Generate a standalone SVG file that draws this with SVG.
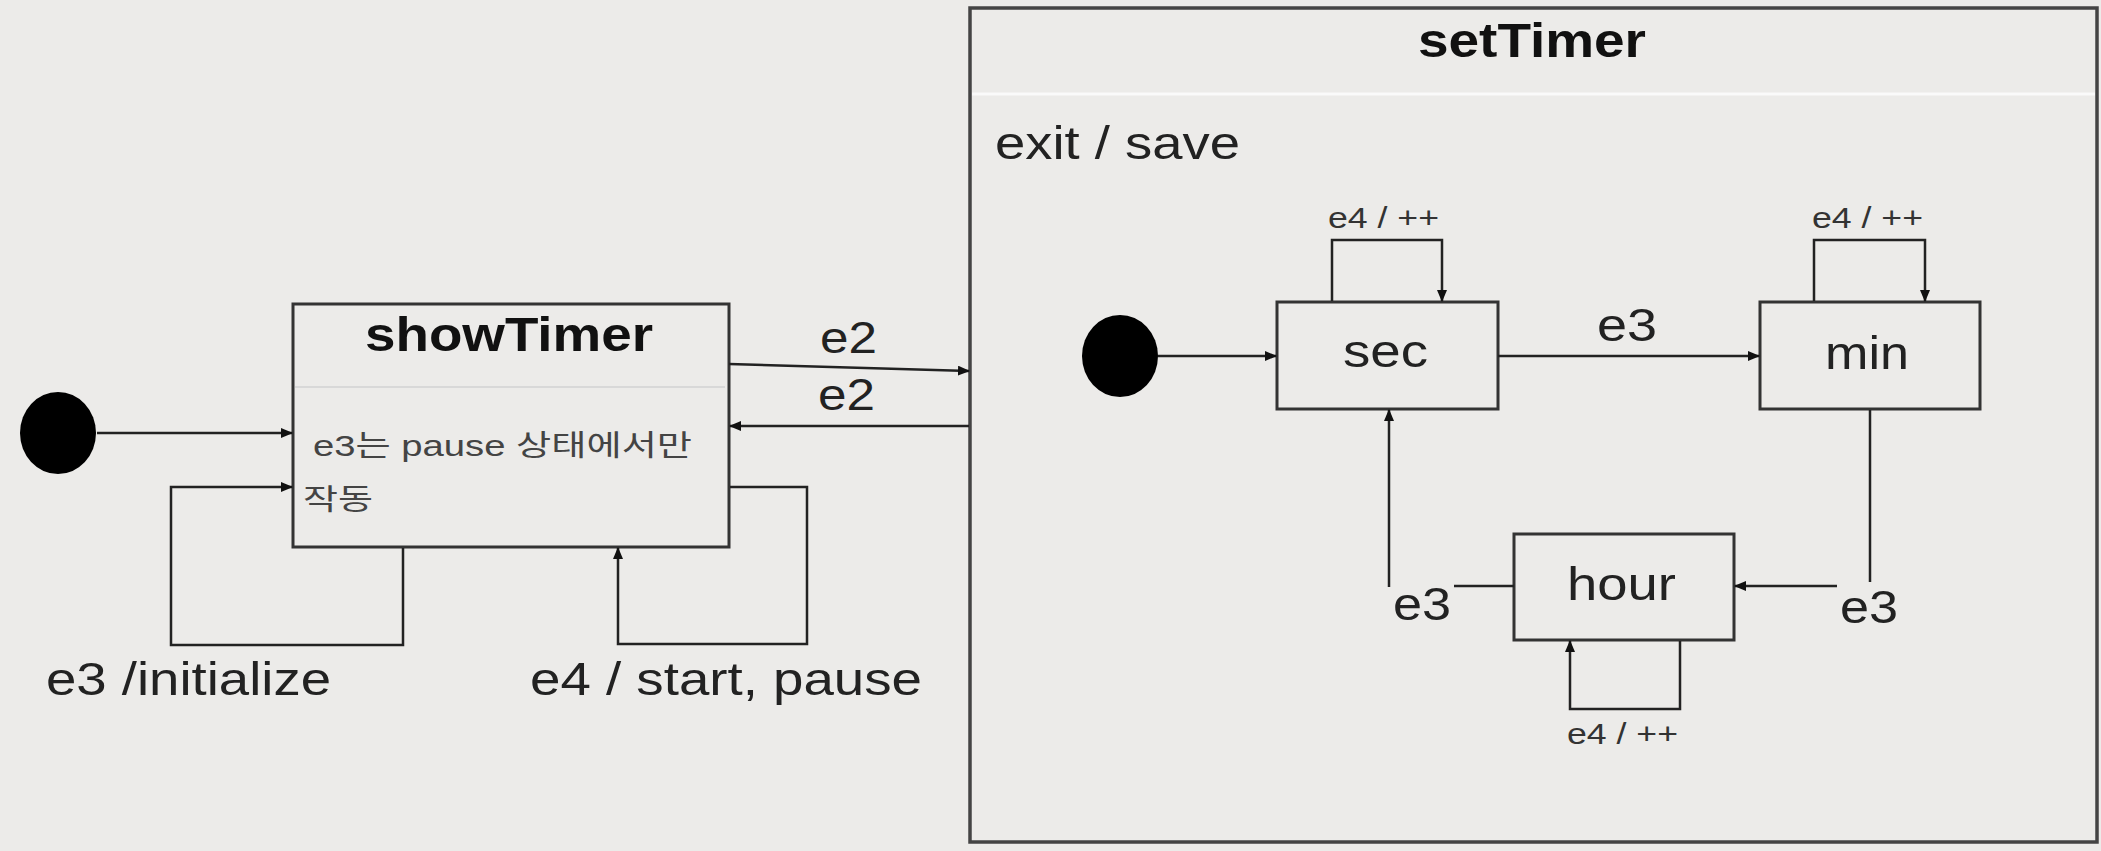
<svg xmlns="http://www.w3.org/2000/svg" width="2101" height="851" viewBox="0 0 2101 851">
<style>
.box{fill:none;stroke:#333;stroke-width:3}
.outer{fill:none;stroke:#444;stroke-width:3.5}
.sep1{stroke:#d8d8d8;stroke-width:2}
.sep2{stroke:#fafafa;stroke-width:3}
.edge{fill:none;stroke:#222;stroke-width:2.5}
.arr{marker-end:url(#ah)}
.t{font-family:"Liberation Sans",Arial,sans-serif;fill:#222}
.title{font-weight:bold;font-size:48px;fill:#111}
.big{font-size:46px}
.lbl{font-size:44px}
.small{font-size:29px;fill:#333}
.kr{font-family:"Liberation Sans","Noto Sans CJK KR",sans-serif;font-size:29px;fill:#444}
</style>
<defs>
<marker id="ah" markerWidth="12" markerHeight="10" refX="11" refY="5" orient="auto" markerUnits="userSpaceOnUse">
<path d="M0,0 L12,5 L0,10 z" fill="#111"/>
</marker>
</defs>
<rect width="2101" height="851" fill="#ecebe9"/>

<g id="init1"><ellipse cx="58" cy="433" rx="38" ry="41" fill="#000"/></g>

<g id="showTimer">
<rect class="box" x="293" y="304" width="436" height="243"/>
<line class="sep1" x1="295" y1="387" x2="725" y2="387"/>
<text class="t title" x="365" y="351" textLength="288" lengthAdjust="spacingAndGlyphs">showTimer</text>
<text class="kr" x="313" y="456" textLength="379" lengthAdjust="spacingAndGlyphs">e3는 pause 상태에서만</text>
<text class="kr" x="303" y="510" textLength="70" lengthAdjust="spacingAndGlyphs">작동</text>
</g>

<g id="setTimer">
<rect class="outer" x="970" y="8" width="1127" height="834"/>
<line class="sep2" x1="972" y1="94" x2="2095" y2="94"/>
<text class="t title" x="1418" y="57" textLength="228" lengthAdjust="spacingAndGlyphs">setTimer</text>
<text class="t big" x="995" y="159" textLength="245" lengthAdjust="spacingAndGlyphs">exit / save</text>
</g>

<g id="init2"><ellipse cx="1120" cy="356" rx="38" ry="41" fill="#000"/></g>

<g id="sec">
<rect class="box" x="1277" y="302" width="221" height="107"/>
<text class="t big" x="1343" y="367" textLength="85" lengthAdjust="spacingAndGlyphs">sec</text>
</g>

<g id="min">
<rect class="box" x="1760" y="302" width="220" height="107"/>
<text class="t big" x="1825" y="369" textLength="84" lengthAdjust="spacingAndGlyphs">min</text>
</g>

<g id="hour">
<rect class="box" x="1514" y="534" width="220" height="106"/>
<text class="t big" x="1567" y="600" textLength="109" lengthAdjust="spacingAndGlyphs">hour</text>
</g>

<g id="connectors">
<line class="edge arr" x1="97" y1="433" x2="292" y2="433"/>
<line class="edge arr" x1="729" y1="364" x2="969" y2="371"/>
<line class="edge arr" x1="969" y1="426" x2="730" y2="426"/>
<polyline class="edge arr" points="403,548 403,645 171,645 171,487 292,487"/>
<polyline class="edge arr" points="730,487 807,487 807,644 618,644 618,548"/>
<line class="edge arr" x1="1158" y1="356" x2="1276" y2="356"/>
<polyline class="edge arr" points="1332,301 1332,240 1442,240 1442,301"/>
<line class="edge arr" x1="1498" y1="356" x2="1759" y2="356"/>
<polyline class="edge arr" points="1814,301 1814,240 1925,240 1925,301"/>
<line class="edge" x1="1870" y1="410" x2="1870" y2="582"/>
<line class="edge arr" x1="1837" y1="586" x2="1735" y2="586"/>
<line class="edge" x1="1514" y1="586" x2="1454" y2="586"/>
<line class="edge arr" x1="1389" y1="587" x2="1389" y2="410"/>
<polyline class="edge arr" points="1680,641 1680,709 1570,709 1570,641"/>

<text class="t lbl" x="820" y="353" textLength="57" lengthAdjust="spacingAndGlyphs">e2</text>
<text class="t lbl" x="818" y="410" textLength="57" lengthAdjust="spacingAndGlyphs">e2</text>
<text class="t big" x="46" y="695" textLength="285" lengthAdjust="spacingAndGlyphs">e3 /initialize</text>
<text class="t big" x="530" y="695" textLength="392" lengthAdjust="spacingAndGlyphs">e4 / start, pause</text>
<text class="t small" x="1328" y="228" textLength="111" lengthAdjust="spacingAndGlyphs">e4 / ++</text>
<text class="t small" x="1812" y="228" textLength="111" lengthAdjust="spacingAndGlyphs">e4 / ++</text>
<text class="t small" x="1567" y="744" textLength="111" lengthAdjust="spacingAndGlyphs">e4 / ++</text>
<text class="t big" x="1597" y="341" textLength="60" lengthAdjust="spacingAndGlyphs">e3</text>
<text class="t big" x="1393" y="620" textLength="58" lengthAdjust="spacingAndGlyphs">e3</text>
<text class="t big" x="1840" y="623" textLength="58" lengthAdjust="spacingAndGlyphs">e3</text>
</g>
</svg>
